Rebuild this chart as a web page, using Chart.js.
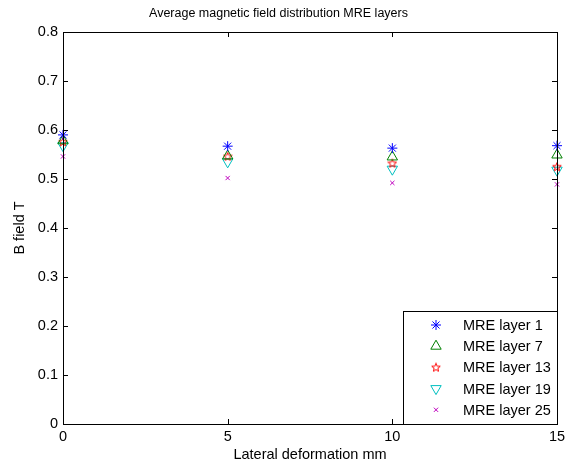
<!DOCTYPE html>
<html>
<head>
<meta charset="utf-8">
<script src="https://cdn.jsdelivr.net/npm/chart.js@4"></script>
<style>
  body { margin: 0; background: #fff; }
  #wrap { width: 565px; height: 464px; }
</style>
</head>
<body>
<div id="wrap"><canvas id="fieldChart" width="565" height="464"></canvas></div>
<script>
// data
const deformation = [0, 5, 10, 15];
const xTicks = [0, 5, 10, 15];
const yTicks = [0, 0.1, 0.2, 0.3, 0.4, 0.5, 0.6, 0.7, 0.8];
const layer1 = [0.590, 0.567, 0.563, 0.568];
const layer7 = [0.578, 0.547, 0.545, 0.549];
const layer13 = [0.576, 0.546, 0.532, 0.525];
const layer19 = [0.568, 0.535, 0.520, 0.518];
const layer25 = [0.546, 0.502, 0.492, 0.489];
const seriesNames = ['MRE layer 1', 'MRE layer 7', 'MRE layer 13', 'MRE layer 19', 'MRE layer 25'];

const FONT = '"Liberation Sans", Arial, sans-serif';
const TXT = 14.5;

// red pentagram marker (matlab 'p')
function makePentagram(color) {
    const c = document.createElement('canvas');
    c.width = 10; c.height = 10;
    const g = c.getContext('2d');
    g.strokeStyle = color;
    g.lineWidth = 1;
    g.beginPath();
    for (let i = 0; i < 10; i++) {
        const r = i % 2 === 0 ? 4.5 : 1.9;
        const a = -Math.PI / 2 + i * Math.PI / 5;
        const px = 5 + r * Math.cos(a), py = 5.3 + r * Math.sin(a);
        if (i === 0) g.moveTo(px, py); else g.lineTo(px, py);
    }
    g.closePath();
    g.stroke();
    return c;
}
const pentagram = makePentagram('#ff0000');

function pts(arr) {
    return deformation.map((x, i) => ({ x: x, y: arr[i] }));
}

const datasets = [
    { label: seriesNames[0], data: pts(layer1), pointStyle: 'star', pointRadius: 5, borderColor: '#0000ff', pointBorderWidth: 1 },
    { label: seriesNames[1], data: pts(layer7), pointStyle: 'triangle', pointRadius: 6, borderColor: '#008000', pointBorderWidth: 1 },
    { label: seriesNames[2], data: pts(layer13), pointStyle: pentagram, pointRadius: 5, borderColor: '#ff0000', pointBorderWidth: 1 },
    { label: seriesNames[3], data: pts(layer19), pointStyle: 'triangle', rotation: 180, pointRadius: 6, borderColor: '#00bfbf', pointBorderWidth: 1 },
    { label: seriesNames[4], data: pts(layer25), pointStyle: 'crossRot', pointRadius: 3, borderColor: '#bf00bf', pointBorderWidth: 1 }
];
datasets.forEach(d => {
    d.showLine = false;
    d.clip = false;
    d.backgroundColor = 'rgba(0,0,0,0)';
    d.pointBackgroundColor = 'rgba(0,0,0,0)';
    d.pointBorderColor = d.borderColor;
    d.pointRotation = d.rotation || 0;
});

// box, inward ticks and legend, matlab style
const matlabFrame = {
    id: 'matlabFrame',
    afterDraw(chart) {
        const ctx = chart.ctx;
        const a = chart.chartArea;
        const xs = chart.scales.x, ys = chart.scales.y;
        ctx.save();
        ctx.strokeStyle = '#000';
        ctx.lineWidth = 1;
        ctx.strokeRect(Math.round(a.left) + 0.5, Math.round(a.top) + 0.5,
            Math.round(a.right - a.left), Math.round(a.bottom - a.top));
        ctx.beginPath();
        const len = 5;
        xTicks.forEach(v => {
            const px = Math.round(xs.getPixelForValue(v)) + 0.5;
            ctx.moveTo(px, a.bottom); ctx.lineTo(px, a.bottom - len);
            ctx.moveTo(px, a.top); ctx.lineTo(px, a.top + len);
        });
        yTicks.forEach(v => {
            const py = Math.round(ys.getPixelForValue(v)) + 0.5;
            ctx.moveTo(a.left, py); ctx.lineTo(a.left + len, py);
            ctx.moveTo(a.right, py); ctx.lineTo(a.right - len, py);
        });
        ctx.stroke();

        // legend box in lower right corner
        const bw = 154, bh = 113;
        const bx = Math.round(a.right) - bw, by = Math.round(a.bottom) - bh;
        ctx.fillStyle = '#fff';
        ctx.fillRect(bx, by, bw, bh);
        ctx.strokeRect(bx + 0.5, by + 0.5, bw, bh);
        ctx.font = TXT + 'px ' + FONT;
        ctx.textBaseline = 'middle';
        chart.data.datasets.forEach((d, i) => {
            const cy = by + 14 + i * 21.2;
            ctx.strokeStyle = d.borderColor;
            ctx.fillStyle = 'rgba(0,0,0,0)';
            ctx.lineWidth = 1;
            Chart.helpers.drawPoint(ctx, {
                pointStyle: d.pointStyle,
                rotation: d.pointRotation,
                radius: d.pointRadius,
                borderWidth: 1
            }, bx + 33, cy);
            ctx.fillStyle = '#000';
            ctx.fillText(d.label, bx + 60, cy + 1);
        });
        ctx.restore();
    }
};

new Chart(document.getElementById('fieldChart'), {
    type: 'scatter',
    data: { datasets: datasets },
    options: {
        responsive: false,
        animation: false,
        layout: { padding: { left: 0, right: 8, top: 0, bottom: 0 } },
        plugins: {
            legend: { display: false },
            tooltip: { enabled: false },
            title: {
                display: true,
                text: 'Average magnetic field distribution MRE layers',
                color: '#000',
                font: { family: FONT, size: 12.5, weight: 'normal' },
                padding: { top: 6, bottom: 11 }
            }
        },
        scales: {
            x: {
                type: 'linear',
                min: 0, max: 15,
                afterBuildTicks: s => { s.ticks = xTicks.map(v => ({ value: v })); },
                afterFit: s => { s.height = 40; s.paddingLeft = 0; s.paddingRight = 0; },
                grid: { display: false, drawTicks: false },
                border: { display: false },
                ticks: { color: '#000', font: { family: FONT, size: TXT }, padding: 4, maxRotation: 0 },
                title: { display: true, text: 'Lateral deformation mm', color: '#000', font: { family: FONT, size: TXT }, padding: { top: 0, bottom: 0 } }
            },
            y: {
                type: 'linear',
                min: 0, max: 0.8,
                afterBuildTicks: s => { s.ticks = yTicks.map(v => ({ value: v })); },
                afterFit: s => { s.width = 63; s.paddingTop = 0; s.paddingBottom = 0; },
                grid: { display: false, drawTicks: false },
                border: { display: false },
                ticks: { color: '#000', font: { family: FONT, size: TXT }, padding: 5, callback: v => String(Math.round(v * 10) / 10) },
                title: { display: true, text: 'B field T', color: '#000', font: { family: FONT, size: TXT }, padding: { top: 11, bottom: 0 } }
            }
        }
    },
    plugins: [matlabFrame]
});
</script>
</body>
</html>
